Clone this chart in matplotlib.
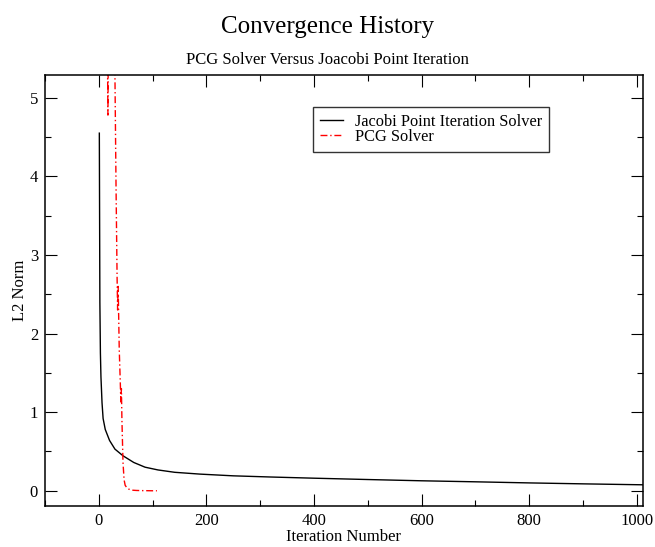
import numpy as np
import matplotlib.pyplot as plt
from matplotlib.ticker import MultipleLocator

plt.rcParams['font.family'] = ['Liberation Serif', 'DejaVu Serif']

# Jacobi point iteration residuals
jacobi_iter = [1, 2, 3, 4, 6, 8, 12, 20, 30, 45, 65, 86, 110, 141, 188, 250,
               320, 400, 500, 600, 700, 800, 900, 1020]
jacobi_l2 = [4.55, 2.4, 1.75, 1.45, 1.12, 0.92, 0.78, 0.64, 0.53, 0.445, 0.36,
             0.30, 0.265, 0.235, 0.212, 0.19, 0.175, 0.16, 0.143, 0.127, 0.114,
             0.10, 0.088, 0.075]

# PCG solver residuals (goes off the top of the axes early on)
pcg_iter = [12, 14, 16, 17, 18, 20, 24, 28, 30, 32, 34, 35, 36, 37, 38, 40,
            41, 42, 43, 45, 47, 49, 52, 56, 61, 70, 80, 90, 100, 108]
pcg_l2 = [9.0, 7.0, 5.6, 4.78, 6.2, 8.0, 10.0, 8.0, 5.3, 3.9, 2.72, 2.3, 2.6,
          2.2, 1.8, 1.37, 1.13, 1.3, 0.9, 0.36, 0.14, 0.07, 0.04, 0.02, 0.008,
          0.004, 0.002, 0.001, 0.0, 0.0]

fig = plt.figure(figsize=(6.55, 5.47), dpi=100, facecolor='white')
ax = fig.add_axes([0.0687, 0.0755, 0.9125, 0.7874])

ax.plot(jacobi_iter, jacobi_l2, color='black', lw=1.0,
        label='Jacobi Point Iteration Solver')
ax.plot(pcg_iter, pcg_l2, color='red', lw=1.0, dashes=(5, 2, 1, 2),
        label='PCG Solver')

ax.set_xlim(-100, 1011)
ax.set_ylim(-0.19, 5.29)
ax.xaxis.set_major_locator(MultipleLocator(200))
ax.xaxis.set_minor_locator(MultipleLocator(100))
ax.yaxis.set_major_locator(MultipleLocator(1))
ax.yaxis.set_minor_locator(MultipleLocator(0.5))
ax.tick_params(which='both', direction='in', top=True, right=True,
               labelsize=12, width=0.8, pad=5)
ax.tick_params(which='major', length=8.5)
ax.tick_params(which='minor', length=4.3)
for sp in ax.spines.values():
    sp.set_linewidth(1.1)

ax.set_xlabel('Iteration Number', fontsize=12, labelpad=0)
ax.set_ylabel('L2 Norm', fontsize=12, labelpad=1)

leg = ax.legend(loc='upper left', bbox_to_anchor=(0.449, 0.926),
                fontsize=11.8, frameon=True, fancybox=False,
                handlelength=1.4, handletextpad=0.7, borderpad=0.42,
                labelspacing=-0.05, borderaxespad=0)
leg.get_frame().set_edgecolor('black')
leg.get_frame().set_linewidth(1.0)

fig.text(0.5, 1 - 27 / 547, 'Convergence History', ha='center', va='center',
         fontsize=18)
fig.text(0.5, 1 - 60 / 547, 'PCG Solver Versus Joacobi Point Iteration',
         ha='center', va='center', fontsize=12)

fig.savefig('out.png', dpi=100)
